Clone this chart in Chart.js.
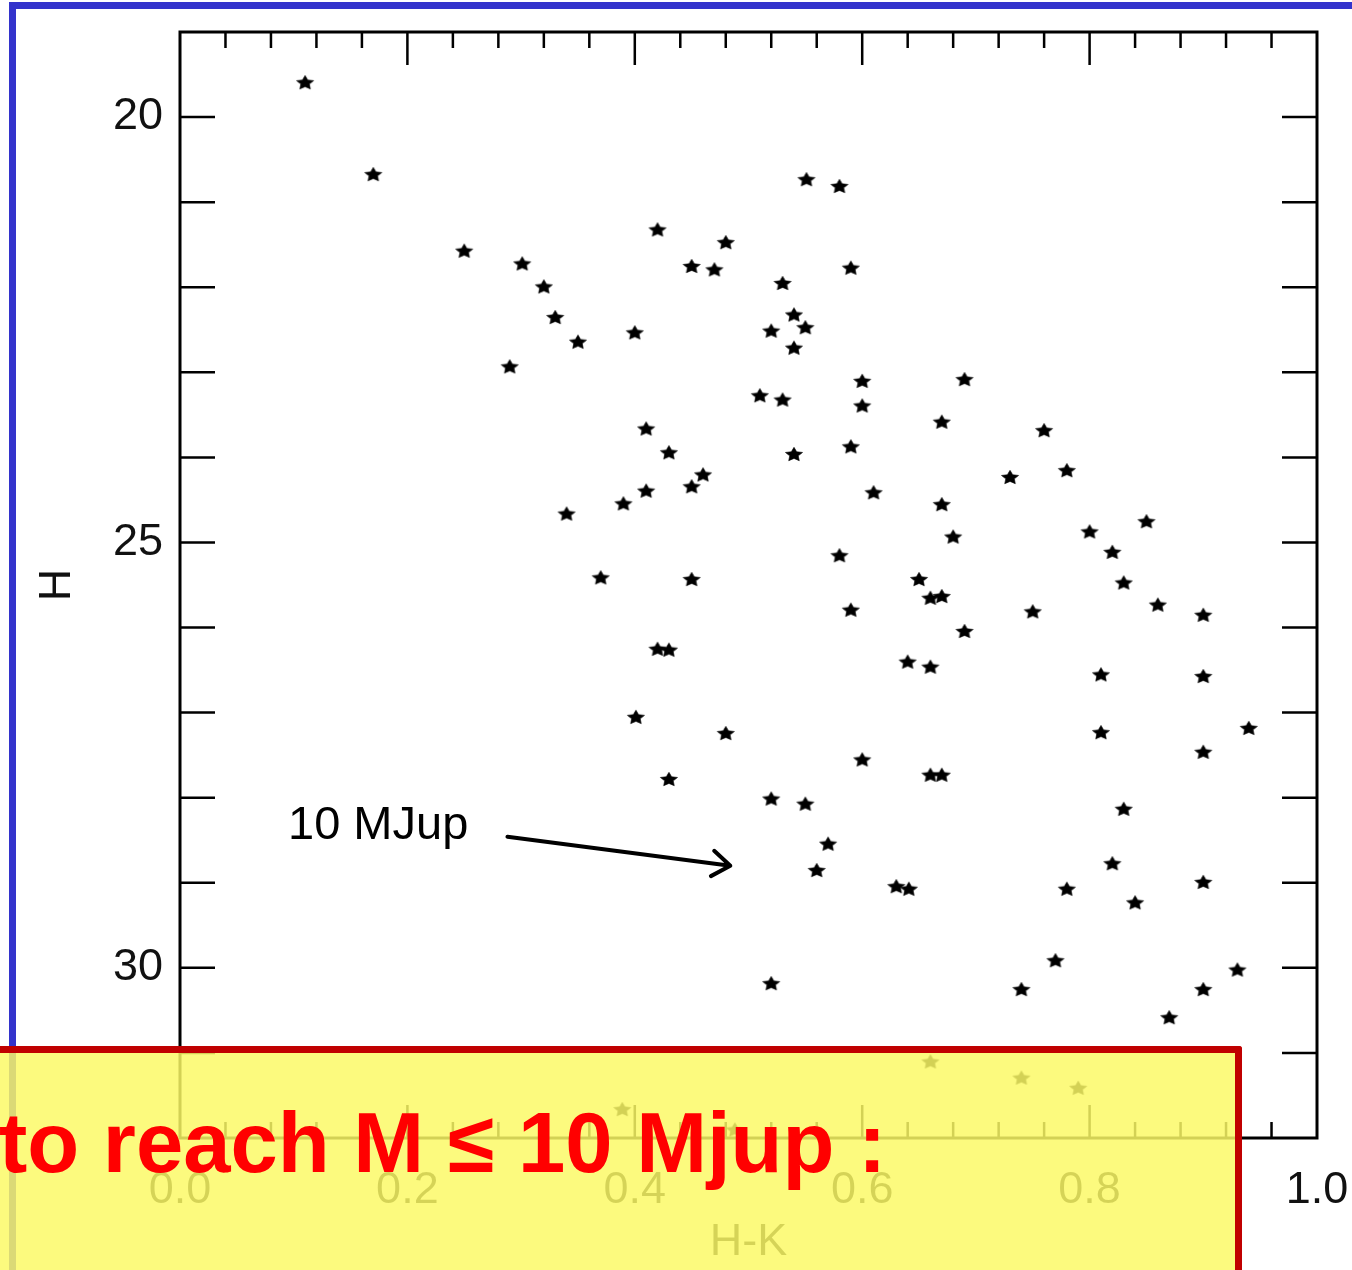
<!DOCTYPE html>
<html>
<head>
<meta charset="utf-8">
<script src="https://cdn.jsdelivr.net/npm/chart.js@4.4.0/dist/chart.umd.min.js"></script>
<style>
  html, body { margin: 0; padding: 0; background: #fff; overflow: hidden; }
  #wrap { position: relative; width: 1352px; height: 1270px; }
  #blue { position: absolute; left: 9px; top: 2px; right: 0; bottom: 0;
          border-top: 7px solid #3333cc; border-left: 7px solid #3333cc; }
  #chart { position: absolute; left: 0; top: 0; }
  #box { position: absolute; left: 0; top: 1046px; width: 1235px; height: 240px;
         background: rgba(251, 249, 101, 0.84);
         border-top: 7px solid #c00000; border-right: 7px solid #c00000;
         border-top-right-radius: 3px; }
  #msg { position: absolute; left: -1px; top: 1101px; white-space: nowrap;
         font: bold 85px "Liberation Sans", Arial, sans-serif; line-height: 84px;
         color: #ff0000; }
</style>
</head>
<body>
<div id="wrap">
  <div id="blue"></div>
  <canvas id="chart" width="1352" height="1270"></canvas>
  <div id="box"></div>
  <div id="msg">to reach M ≤ 10 Mjup :</div>
</div>
<script>
// colour H-K vs H magnitude of the candidates
var hk = [0.110, 0.170, 0.250, 0.301, 0.320, 0.330, 0.350, 0.290, 0.400, 0.420,
          0.450, 0.470, 0.480, 0.551, 0.580, 0.590, 0.530, 0.520, 0.540, 0.550,
          0.540, 0.600, 0.690, 0.510, 0.530, 0.600, 0.670, 0.410, 0.430, 0.540,
          0.590, 0.460, 0.450, 0.410, 0.390, 0.340, 0.610, 0.670, 0.680, 0.760,
          0.730, 0.780, 0.800, 0.850, 0.820, 0.830, 0.580, 0.370, 0.450, 0.650,
          0.660, 0.670, 0.590, 0.690, 0.750, 0.860, 0.900, 0.420, 0.430, 0.640,
          0.660, 0.810, 0.900, 0.401, 0.480, 0.430, 0.600, 0.660, 0.670, 0.520,
          0.550, 0.570, 0.560, 0.630, 0.641, 0.810, 0.940, 0.900, 0.830, 0.820,
          0.780, 0.900, 0.840, 0.520, 0.740, 0.770, 0.900, 0.930, 0.870, 0.660,
          0.740, 0.790, 0.389, 0.488];

var hMag = [19.59, 20.67, 21.57, 21.72, 21.99, 22.35, 22.64, 22.93, 22.53, 21.32,
            21.75, 21.79, 21.47, 20.73, 20.81, 21.77, 21.95, 22.51, 22.32, 22.47,
            22.71, 23.10, 23.08, 23.27, 23.32, 23.39, 23.58, 23.66, 23.94, 23.96,
            23.87, 24.20, 24.34, 24.39, 24.54, 24.66, 24.41, 24.55, 24.93, 23.68,
            24.23, 24.15, 24.87, 24.75, 25.11, 25.47, 25.15, 25.41, 25.43, 25.43,
            25.65, 25.63, 25.79, 26.04, 25.81, 25.73, 25.85, 26.25, 26.26, 26.40,
            26.46, 26.55, 26.57, 27.05, 27.24, 27.78, 27.55, 27.73, 27.73, 28.01,
            28.07, 28.54, 28.85, 29.04, 29.07, 27.23, 27.18, 27.46, 28.13, 28.77,
            29.07, 28.99, 29.23, 30.18, 30.25, 29.91, 30.25, 30.02, 30.58, 31.10,
            31.29, 31.41, 31.66, 31.90];

var xTickLabels = [0.0, 0.2, 0.4, 0.6, 0.8, 1.0];
var yTickLabels = [20, 25, 30];

// annotation, in data units
var noteText = '10 MJup';
var notePos = [0.095, 28.49];
var arrowFrom = [0.288, 28.46];
var arrowTo = [0.484, 28.80];

var fontFamily = '"Liberation Sans", Arial, Helvetica, sans-serif';

// filled five pointed star used as the marker (a bit squat, like the plot)
function makeStar(r) {
    var c = document.createElement('canvas');
    c.width = Math.ceil(r * 2 + 4);
    c.height = Math.ceil(r * 2 + 4);
    var g = c.getContext('2d');
    var cx = c.width / 2, cy = c.height / 2 + r * 0.08;
    g.beginPath();
    for (var i = 0; i < 10; i++) {
        var rad = i % 2 === 0 ? r : r * 0.5;
        var ang = -Math.PI / 2 + i * Math.PI / 5;
        g.lineTo(cx + rad * Math.cos(ang), cy + 0.82 * rad * Math.sin(ang));
    }
    g.closePath();
    g.fillStyle = '#000';
    g.fill();
    g.strokeStyle = 'rgba(0,0,0,0.6)';
    g.lineWidth = 1;
    g.stroke();
    return c;
}

var frame = {
    id: 'frame',
    beforeDatasetsDraw: function (chart) {
        var ctx = chart.ctx, a = chart.chartArea;
        var x = chart.scales.x, y = chart.scales.y;
        ctx.save();
        ctx.strokeStyle = '#000';
        ctx.lineWidth = 3;
        ctx.strokeRect(a.left, a.top, a.right - a.left, a.bottom - a.top);
        ctx.lineWidth = 2.5;
        ctx.beginPath();
        for (var i = 1; i < 25; i++) {
            var px = x.getPixelForValue(i * 0.04);
            var len = i % 5 === 0 ? 33 : 16;
            ctx.moveTo(px, a.top); ctx.lineTo(px, a.top + len);
            ctx.moveTo(px, a.bottom); ctx.lineTo(px, a.bottom - len);
        }
        for (var v = 20; v <= 31; v++) {
            var py = y.getPixelForValue(v);
            ctx.moveTo(a.left, py); ctx.lineTo(a.left + 35, py);
            ctx.moveTo(a.right, py); ctx.lineTo(a.right - 35, py);
        }
        ctx.stroke();
        ctx.restore();
    },
    afterDraw: function (chart) {
        var ctx = chart.ctx;
        var x = chart.scales.x, y = chart.scales.y;
        ctx.save();
        ctx.fillStyle = '#000';
        ctx.font = '47px ' + fontFamily;
        ctx.textBaseline = 'alphabetic';
        ctx.fillText(noteText, x.getPixelForValue(notePos[0]), y.getPixelForValue(notePos[1]));

        var x0 = x.getPixelForValue(arrowFrom[0]), y0 = y.getPixelForValue(arrowFrom[1]);
        var x1 = x.getPixelForValue(arrowTo[0]), y1 = y.getPixelForValue(arrowTo[1]);
        var ang = Math.atan2(y1 - y0, x1 - x0);
        ctx.strokeStyle = '#000';
        ctx.lineWidth = 4;
        ctx.lineCap = 'round';
        ctx.lineJoin = 'round';
        ctx.beginPath();
        ctx.moveTo(x0, y0);
        ctx.lineTo(x1, y1);
        ctx.moveTo(x1 - 22 * Math.cos(ang - 0.62), y1 - 22 * Math.sin(ang - 0.62));
        ctx.lineTo(x1, y1);
        ctx.lineTo(x1 - 22 * Math.cos(ang + 0.62), y1 - 22 * Math.sin(ang + 0.62));
        ctx.stroke();
        ctx.restore();
    }
};

var points = hk.map(function (v, i) {
    return { x: v, y: hMag[i] };
});

var ctx = document.getElementById('chart').getContext('2d');
var myChart = new Chart(ctx, {
    type: 'scatter',
    data: {
        datasets: [{
            label: 'H',
            data: points,
            pointStyle: makeStar(9),
            pointRadius: 8,
            backgroundColor: '#000',
            borderColor: '#000'
        }]
    },
    options: {
        responsive: false,
        animation: false,
        events: [],
        layout: { padding: { top: 32, right: 35, left: 0, bottom: 0 } },
        plugins: { legend: { display: false }, tooltip: { enabled: false } },
        scales: {
            x: {
                type: 'linear',
                min: 0,
                max: 1,
                grid: { display: false, drawTicks: false },
                border: { display: false },
                afterBuildTicks: function (s) {
                    s.ticks = xTickLabels.map(function (v) { return { value: v }; });
                },
                afterFit: function (s) {
                    s.height = 132;
                    s.paddingLeft = 0;
                    s.paddingRight = 0;
                },
                ticks: {
                    autoSkip: false,
                    maxRotation: 0,
                    padding: 26,
                    color: '#111',
                    font: { family: fontFamily, size: 45 },
                    callback: function (v) { return Number(v).toFixed(1); }
                },
                title: {
                    display: true,
                    text: 'H-K',
                    color: '#111',
                    padding: { top: 0, bottom: 0 },
                    font: { family: fontFamily, size: 45 }
                }
            },
            y: {
                type: 'linear',
                min: 19,
                max: 32,
                reverse: true,
                grid: { display: false, drawTicks: false },
                border: { display: false },
                afterBuildTicks: function (s) {
                    s.ticks = yTickLabels.map(function (v) { return { value: v }; });
                },
                afterFit: function (s) {
                    s.width = 180;
                    s.paddingTop = 0;
                    s.paddingBottom = 0;
                },
                ticks: {
                    padding: 17,
                    color: '#111',
                    font: { family: fontFamily, size: 45 },
                    callback: function (v) { return String(v); }
                },
                title: {
                    display: true,
                    text: 'H',
                    color: '#111',
                    padding: { top: 31, bottom: 0 },
                    font: { family: fontFamily, size: 45 }
                }
            }
        }
    },
    plugins: [frame]
});
</script>
</body>
</html>
